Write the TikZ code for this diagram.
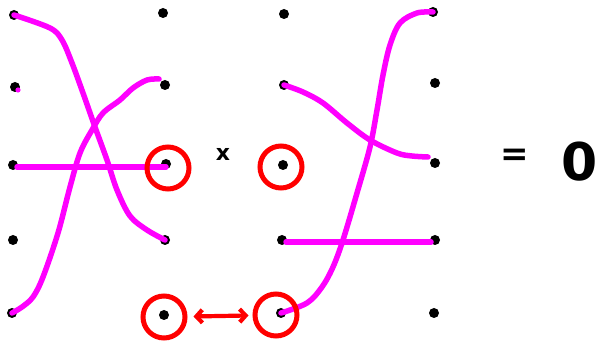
\documentclass[tikz,border=0pt]{standalone}
\usepackage{fontspec}
\newfontfamily\symfont{DejaVu Sans}
\usepackage{tikz}
\usetikzlibrary{arrows.meta, calc}
\definecolor{wireMag}{RGB}{255,0,255}
\definecolor{ringRed}{RGB}{255,0,0}
\tikzset{
  DOT/.style={circle, fill=black, inner sep=0pt, minimum size=10pt},
  WIRE/.style={wireMag, line width=5.5pt, line cap=round, line join=round},
  RING/.style={circle, draw=ringRed, line width=5pt, minimum size=42pt, inner sep=0pt},
  AR/.style={{Straight Barb[length=6pt,width=13pt]}-{Straight Barb[length=6pt,width=13pt]},
    ringRed, line width=4.2pt, shorten >=4pt, shorten <=6pt},
  SYM/.style={inner sep=0pt},
}

\begin{document}
\begin{tikzpicture}[x=1pt, y=1pt, yscale=-1]
\useasboundingbox (0,0) rectangle (603,347);

%% ═══════════════════════════════════════════════════════════════════════════
%%  Dots — left diagram
%% ═══════════════════════════════════════════════════════════════════════════

\node[DOT] (A1) at (14,15)  {};
\node[DOT] (A2) at (15,87)  {};
\node[DOT] (A3) at (13,165) {};
\node[DOT] (A4) at (13,240) {};
\node[DOT] (A5) at (12,313) {};

\node[DOT] (B1) at (163,13)  {};
\node[DOT] (B2) at (165,85)  {};
\node[DOT] (B3) at (166,164) {};
\node[DOT] (B4) at (165,240) {};
\node[DOT] (B5) at (164,315) {};

%% ═══════════════════════════════════════════════════════════════════════════
%%  Dots — right diagram
%% ═══════════════════════════════════════════════════════════════════════════

\node[DOT] (C1) at (284,14)  {};
\node[DOT] (C2) at (284,85)  {};
\node[DOT] (C3) at (283,165) {};
\node[DOT] (C4) at (282,240) {};
\node[DOT] (C5) at (281,313) {};

\node[DOT] (D1) at (433,12)  {};
\node[DOT] (D2) at (435,83)  {};
\node[DOT] (D3) at (435,163) {};
\node[DOT] (D4) at (435,240) {};
\node[DOT] (D5) at (434,313) {};

%% Wires, left
\draw[WIRE] plot[smooth, tension=.55] coordinates {(A1.center) (50,28) (62,40) (72,63)
  (83,93) (95,127) (107,160) (117,190) (130,216) (147,230) (B4.center)};
\draw[WIRE] plot[smooth, tension=.55] coordinates {(A5.center) (22,307) (33,297) (43,277)
  (58,233) (70,187) (80,153) (92,130) (103,113) (120,100) (133,88) (147,80) (159,79)};
\draw[WIRE] ($(A3.center)+(4,2)$) -- ($(B3.center)+(0,3)$);
\fill[wireMag] ($(A2.center)+(3,3)$) circle (2.6pt);

%% Wires, right
\draw[WIRE] plot[smooth, tension=.55] coordinates {(C5.center) (307,303) (322,287)
  (333,267) (343,240) (357,193) (370,147) (377,110) (383,75) (390,45) (400,23) (417,13) (D1.center)};
\draw[WIRE] plot[smooth, tension=.55] coordinates {(C2.center) (303,92) (323,103)
  (347,123) (370,140) (397,153) (412,156) (428,157)};
\draw[WIRE] ($(C4.center)+(4,2)$) -- ($(D4.center)+(-4,2)$);

%% Rings
\node[RING] (R1) at (168,168) {};
\node[RING] (R2) at (281,167) {};
\node[RING] (R3) at (164,317) {};
\node[RING] (R4) at (276,315) {};
\draw[AR] (R3) -- (R4);

%% Product = 0
\node[SYM, font=\symfont\bfseries\fontsize{22}{22}\selectfont] (TIMES) at (223,154) {x};
\node[SYM, font=\symfont\bfseries\fontsize{34}{34}\selectfont] (EQ) at (515,157) {=};
\node[SYM, font=\symfont\bfseries\fontsize{52}{52}\selectfont] (ZERO) at (580,162) {0};

\end{tikzpicture}
\end{document}
